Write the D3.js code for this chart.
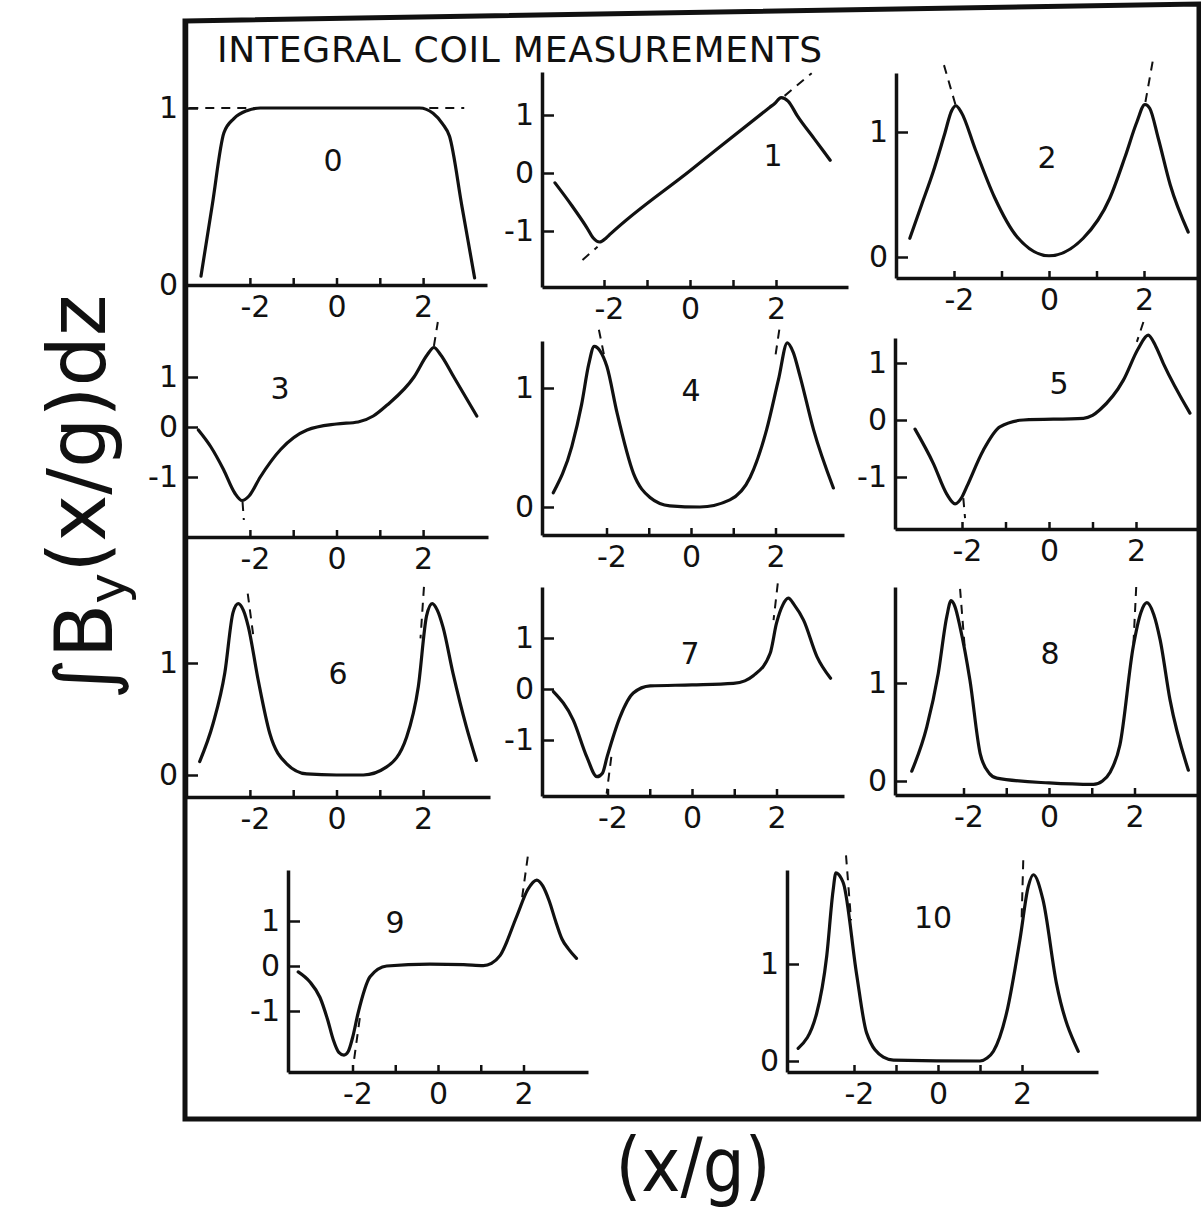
<!DOCTYPE html>
<html>
<head>
<meta charset="utf-8">
<script src="https://cdnjs.cloudflare.com/ajax/libs/d3/7.8.5/d3.min.js"></script>
<style>
body { margin: 0; background: #fff; }
svg { display: block; }
.curve { fill: none; stroke: #111; stroke-width: 3.2; stroke-linejoin: round; stroke-linecap: round; }
.dash { fill: none; stroke: #111; stroke-width: 2; stroke-dasharray: 9,7; }
.axis path.domain { stroke: #111; stroke-width: 3.5; }
.axis line { stroke: #111; stroke-width: 2.5; }
.axis text { font-family: "DejaVu Sans", sans-serif; font-size: 30px; fill: #111; }
text { font-family: "DejaVu Sans", sans-serif; fill: #111; }
</style>
</head>
<body>
<div id="chart"></div>
<script>
var width = 1201;
var height = 1213;

var title = "INTEGRAL COIL MEASUREMENTS";
var xLabel = "(x/g)";
var xTickValues = [-2, -1, 0, 1, 2];
var xTickLabels = [-2, 0, 2];

var curve0 = [[-3.13,0.05],[-2.87,0.45],[-2.6,0.86],[-2.37,0.94],[-2.07,0.985],[-1.76,1.0],[0,1.0],[1.92,1.0],[2.23,0.97],[2.45,0.91],[2.61,0.84],[2.9,0.44],[3.19,0.04]];
var curve1 = [[-3.14,-0.17],[-2.75,-0.56],[-2.4,-0.94],[-2.25,-1.12],[-2.1,-1.19],[-1.95,-1.12],[-1.85,-1.05],[0,0.04],[1.85,1.13],[1.97,1.2],[2.12,1.3],[2.28,1.24],[2.5,0.98],[2.9,0.58],[3.26,0.22]];
var curve2 = [[-2.93,0.15],[-2.68,0.42],[-2.44,0.68],[-2.2,0.98],[-2.05,1.17],[-1.96,1.21],[-1.85,1.16],[-1.55,0.86],[-1.15,0.48],[-0.67,0.16],[0,0.01],[0.72,0.15],[1.28,0.47],[1.6,0.8],[1.85,1.08],[2.02,1.22],[2.12,1.19],[2.3,0.95],[2.55,0.58],[2.93,0.2]];
var curve3 = [[-3.19,-0.06],[-2.9,-0.4],[-2.61,-0.85],[-2.35,-1.32],[-2.18,-1.47],[-2.02,-1.38],[-1.76,-1.0],[-1.29,-0.45],[-0.68,-0.06],[0,0.06],[0.5,0.1],[0.85,0.22],[1.17,0.44],[1.79,1.0],[2.1,1.45],[2.25,1.59],[2.4,1.45],[2.71,1.0],[3.24,0.22]];
var curve4 = [[-3.26,0.12],[-2.82,0.51],[-2.59,0.86],[-2.42,1.2],[-2.29,1.35],[-2.15,1.31],[-1.99,1.18],[-1.75,0.79],[-1.36,0.28],[-0.97,0.08],[-0.5,0.01],[0.21,0.0],[0.92,0.06],[1.4,0.25],[1.79,0.65],[2.07,1.07],[2.28,1.38],[2.42,1.3],[2.58,1.1],[2.9,0.65],[3.37,0.16]];
var curve5 = [[-3.08,-0.16],[-2.66,-0.76],[-2.35,-1.3],[-2.16,-1.47],[-2.0,-1.35],[-1.89,-1.17],[-1.51,-0.53],[-1.13,-0.12],[-0.59,0.0],[0.79,0.03],[1.0,0.08],[1.17,0.18],[1.71,0.7],[2.05,1.25],[2.28,1.49],[2.45,1.3],[2.63,0.99],[3.24,0.12]];
var curve6 = [[-3.16,0.12],[-2.85,0.46],[-2.58,0.91],[-2.39,1.45],[-2.27,1.53],[-2.15,1.47],[-2.04,1.33],[-1.81,0.85],[-1.54,0.37],[-1.15,0.1],[-0.69,0.01],[0,0.0],[0.62,0.0],[1.15,0.07],[1.62,0.34],[1.89,0.79],[2.08,1.42],[2.21,1.53],[2.33,1.47],[2.46,1.32],[2.69,0.91],[3.0,0.43],[3.23,0.13]];
var curve7 = [[-3.28,-0.05],[-2.81,-0.61],[-2.49,-1.33],[-2.25,-1.72],[-2.12,-1.65],[-2.01,-1.33],[-1.7,-0.54],[-1.39,-0.08],[-0.99,0.06],[0,0.08],[0.98,0.11],[1.25,0.16],[1.45,0.26],[1.85,0.7],[2.0,1.29],[2.15,1.65],[2.28,1.78],[2.42,1.65],[2.64,1.35],[2.96,0.63],[3.28,0.21]];
var curve8 = [[-3.21,0.1],[-2.86,0.55],[-2.59,1.1],[-2.39,1.68],[-2.29,1.84],[-2.2,1.78],[-2.08,1.57],[-1.85,1.03],[-1.61,0.28],[-1.4,0.08],[-1.22,0.03],[0,-0.02],[1.04,-0.035],[1.25,0.0],[1.43,0.09],[1.66,0.37],[1.97,1.37],[2.15,1.72],[2.29,1.82],[2.45,1.7],[2.6,1.44],[2.83,0.83],[3.26,0.11]];
var curve9 = [[-3.27,-0.13],[-3.0,-0.35],[-2.76,-0.7],[-2.58,-1.2],[-2.45,-1.64],[-2.32,-1.92],[-2.2,-1.98],[-2.1,-1.9],[-2.0,-1.6],[-1.87,-1.05],[-1.59,-0.24],[-1.2,0.0],[-0.19,0.04],[0.6,0.03],[1.06,0.01],[1.25,0.06],[1.45,0.23],[1.84,1.1],[2.1,1.7],[2.31,1.91],[2.45,1.78],[2.6,1.45],[2.75,1.0],[2.9,0.6],[3.05,0.38],[3.24,0.17]];
var curve10 = [[-3.33,0.13],[-2.89,0.49],[-2.65,1.08],[-2.5,1.75],[-2.43,1.94],[-2.3,1.88],[-2.25,1.83],[-1.94,0.9],[-1.7,0.29],[-1.3,0.04],[-1.06,0.01],[1.0,0.0],[1.17,0.03],[1.32,0.1],[1.63,0.49],[1.95,1.25],[2.15,1.8],[2.27,1.92],[2.5,1.66],[2.82,0.8],[3.34,0.1]];

// dashed asymptotes (ideal multipole), short segments
var dash0 = [[[-3.4,1.0],[2.95,1.0]]];
var dash1 = [[[-2.5,-1.5],[-2.15,-1.27]], [[2.2,1.33],[2.83,1.72]]];
var dash2 = [[[-1.97,1.22],[-2.23,1.56]], [[2.03,1.24],[2.19,1.58]]];
var dash3 = [[[-2.17,-1.5],[-2.14,-1.86]], [[2.25,1.62],[2.34,2.1]]];
var dash4 = [[[-2.18,1.49],[-2.06,1.28]], [[2.09,1.49],[1.99,1.25]]];
var dash5 = [[[2.17,1.72],[2.02,1.37]], [[-1.97,-1.37],[-1.93,-1.72]]];
var dash6 = [[[-2.05,1.62],[-1.91,1.21]], [[2.02,1.68],[1.94,1.22]]];
var dash7 = [[[-1.91,-1.33],[-2.02,-2.05]], [[2.03,2.07],[1.93,1.35]]];
var dash8 = [[[-2.08,1.96],[-1.96,1.3]], [[2.04,1.98],[1.97,1.35]]];
var dash9 = [[[-1.83,-1.16],[-1.97,-2.13]], [[2.1,2.43],[1.96,1.47]]];
var dash10 = [[[-2.19,2.12],[-2.07,1.45]], [[2.03,2.07],[1.99,1.45]]];

var yTicks0 = [0, 1];
var yTicks3 = [-1, 0, 1];

// where each small plot sits on the page
var panels = [
    {name: "0",  curve: curve0,  dashes: dash0,  yTicks: yTicks0, left: 186, right: 487,  top: 21,  bottom: 285,  x0: 336.5, ux: 43.3,  y0: 285,  uy: 177, label: [333, 160]},
    {name: "1",  curve: curve1,  dashes: dash1,  yTicks: yTicks3, left: 542, right: 848,  top: 72,  bottom: 287,  x0: 690,   ux: 43,    y0: 173,  uy: 58,  label: [773, 155]},
    {name: "2",  curve: curve2,  dashes: dash2,  yTicks: yTicks0, left: 896, right: 1201, top: 73,  bottom: 278,  x0: 1049,  ux: 47.5,  y0: 257,  uy: 125, label: [1047, 157]},
    {name: "3",  curve: curve3,  dashes: dash3,  yTicks: yTicks3, left: 186, right: 488,  top: 285, bottom: 537,  x0: 336.5, ux: 43.3,  y0: 427,  uy: 50,  label: [280, 388]},
    {name: "4",  curve: curve4,  dashes: dash4,  yTicks: yTicks0, left: 542, right: 844,  top: 341, bottom: 535,  x0: 691,   ux: 42.25, y0: 507,  uy: 119, label: [691, 390]},
    {name: "5",  curve: curve5,  dashes: dash5,  yTicks: yTicks3, left: 895, right: 1201, top: 338, bottom: 529,  x0: 1049,  ux: 43.5,  y0: 420,  uy: 57,  label: [1059, 383]},
    {name: "6",  curve: curve6,  dashes: dash6,  yTicks: yTicks0, left: 186, right: 490,  top: 537, bottom: 797,  x0: 336.5, ux: 43.3,  y0: 775,  uy: 112, label: [338, 673]},
    {name: "7",  curve: curve7,  dashes: dash7,  yTicks: yTicks3, left: 542, right: 844,  top: 587, bottom: 796,  x0: 692,   ux: 42.25, y0: 689,  uy: 51,  label: [690, 653]},
    {name: "8",  curve: curve8,  dashes: dash8,  yTicks: yTicks0, left: 895, right: 1201, top: 587, bottom: 795,  x0: 1049,  ux: 42.75, y0: 781,  uy: 98,  label: [1050, 653]},
    {name: "9",  curve: curve9,  dashes: dash9,  yTicks: yTicks3, left: 288, right: 588,  top: 870, bottom: 1072, x0: 438,   ux: 42.75, y0: 966,  uy: 45,  label: [395, 922]},
    {name: "10", curve: curve10, dashes: dash10, yTicks: yTicks0, left: 787, right: 1098, top: 870, bottom: 1072, x0: 938,   ux: 42,    y0: 1061, uy: 97,  label: [933, 917]}
];

var svg = d3.select("#chart").append("svg")
    .attr("width", width)
    .attr("height", height);

panels.forEach(function (p) {
    var x = d3.scaleLinear()
        .domain([(p.left - p.x0) / p.ux, (p.right - p.x0) / p.ux])
        .range([p.left, p.right]);
    var y = d3.scaleLinear()
        .domain([(p.y0 - p.bottom) / p.uy, (p.y0 - p.top) / p.uy])
        .range([p.bottom, p.top]);

    var g = svg.append("g").attr("class", "panel");

    var xAxis = g.append("g").attr("class", "axis")
        .attr("transform", "translate(0," + p.bottom + ")")
        .call(d3.axisBottom(x).tickValues(xTickValues).tickSize(-7).tickSizeOuter(0).tickPadding(11)
            .tickFormat(d => xTickLabels.indexOf(d) >= 0 ? String(d) : ""));
    xAxis.selectAll("text").filter(d => d < 0).attr("dx", 5);

    var yAxis = g.append("g").attr("class", "axis")
        .attr("transform", "translate(" + p.left + ",0)")
        .call(d3.axisLeft(y).tickValues(p.yTicks).tickSize(-12).tickSizeOuter(0).tickPadding(8)
            .tickFormat(d => String(d)));
    yAxis.selectAll(".tick line").filter(d => y(d) >= p.bottom - 1).remove();

    var line = d3.line()
        .x(d => x(d[0]))
        .y(d => y(d[1]))
        .curve(d3.curveMonotoneX);

    g.selectAll("path.dash")
        .data(p.dashes).enter().append("path")
        .attr("class", "dash")
        .attr("d", d3.line().x(d => x(d[0])).y(d => y(d[1])));

    g.append("path")
        .datum(p.curve)
        .attr("class", "curve")
        .attr("d", line);

    g.append("text")
        .attr("x", p.label[0])
        .attr("y", p.label[1])
        .attr("text-anchor", "middle")
        .attr("dominant-baseline", "central")
        .style("font-size", "30px")
        .text(p.name);
});

// outer frame
svg.append("path")
    .attr("d", "M185,21 L1199,4 L1199,1119 L185,1119 Z")
    .style("fill", "none")
    .style("stroke", "#111")
    .style("stroke-width", 5);

svg.append("text")
    .attr("x", 217)
    .attr("y", 62)
    .attr("textLength", 605)
    .attr("lengthAdjust", "spacing")
    .style("font-size", "36px")
    .text(title);

// y label: integral of By(x/g) dz
var yl = svg.append("text")
    .attr("transform", "translate(112,497) rotate(-90)")
    .attr("text-anchor", "middle")
    .style("font-size", "80px");
yl.append("tspan").text("\u222B");
yl.append("tspan").text("B");
yl.append("tspan").attr("dy", "0.25em").style("font-size", "52px").text("y");
yl.append("tspan").attr("dy", "-0.25em").text("(x/g)dz");
var len = yl.node().getComputedTextLength();
yl.style("font-size", (80 * 405 / len) + "px");

svg.append("text")
    .attr("x", 693)
    .attr("y", 1191)
    .attr("text-anchor", "middle")
    .attr("textLength", 155)
    .attr("lengthAdjust", "spacingAndGlyphs")
    .style("font-size", "74px")
    .text(xLabel);
</script>
</body>
</html>
